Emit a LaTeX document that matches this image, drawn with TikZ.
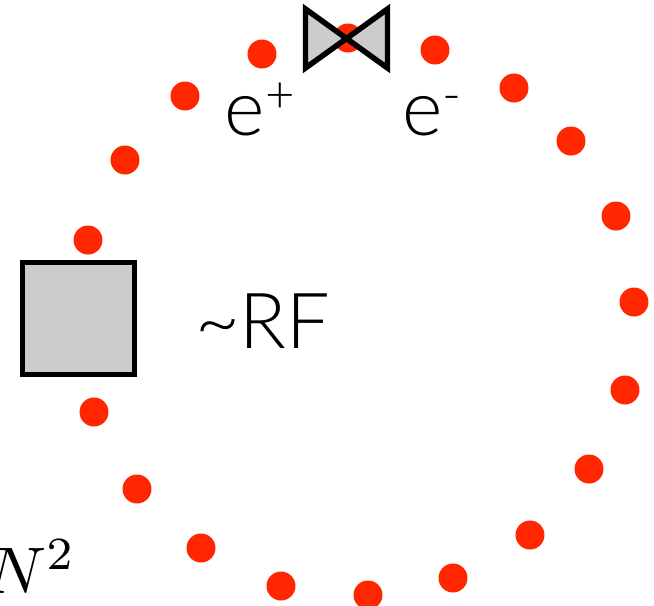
\documentclass[tikz,border=0pt]{standalone}
\usepackage{fontspec}
\setmainfont{Lato Light}
\usepackage{xcolor}
\definecolor{bunchred}  {RGB}{255, 38,  0}
\definecolor{devicegray}{RGB}{204,204,204}

\begin{document}
\begin{tikzpicture}[
  x=0.02cm, y=-0.02cm,
  every node/.style={inner sep=0pt, outer sep=0pt},
  bunch/.style={circle, fill=bunchred, minimum size=0.58cm},
  device/.style={draw=black, fill=devicegray, line width=0.11cm, miter limit=10},
  cavity/.style={device, minimum size=2.24cm},
  lbl/.style={anchor=base west, font=\fontsize{44}{48}\selectfont}
]
  \useasboundingbox (0,0) rectangle (654,606);

  % Bunches
  \foreach \i/\px/\py in {1/348/38, 2/435/50, 3/514/88, 4/571/141, 5/616/216, 6/634/302,
      7/625/390, 8/589/469, 9/530/535, 10/453/578, 11/368/595, 12/281/586, 13/201/548,
      14/137/489, 15/94/412, 16/88/240, 17/125/160, 18/185/96, 19/262/54}
    \node (bunch\i) [bunch] at (\px,\py) {};

  % Devices
  \node (rfcavity) [cavity] at (78.5,318.5) {};
  \draw [device] (305.5,9) -- (387.5,68) -- (387.5,9) -- (305.5,68) -- cycle;

  % Labels
  \node (eplus) [lbl] at (225,135) {e\raisebox{0.29em}{\fontsize{29}{32}\selectfont +}};
  \node (eminus) [lbl] at (402,135) {e\raisebox{0.29em}{\fontsize{29}{32}\selectfont -}};
  \node (rf) [lbl] at (195,348) {\textasciitilde RF};
  \node (npart) [anchor=base east, scale=3.75] at (76,593) {$N^2$};
\end{tikzpicture}
\end{document}
